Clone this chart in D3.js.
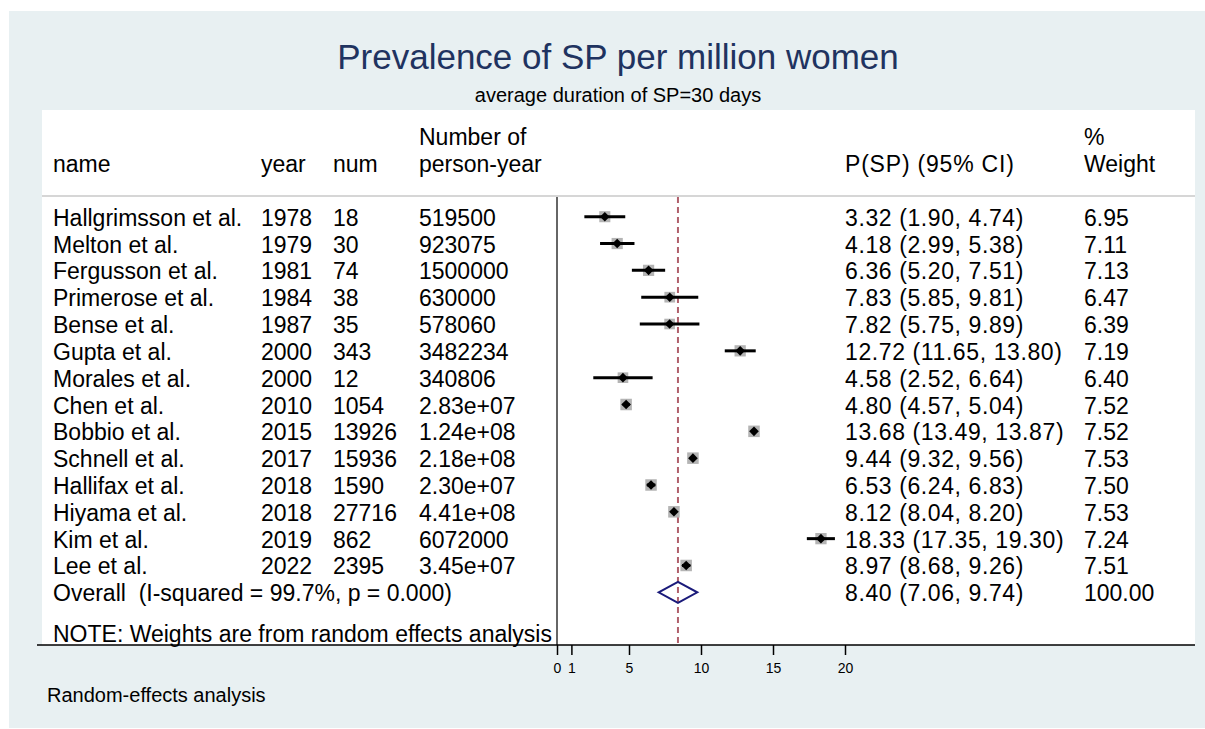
<!DOCTYPE html>
<html>
<head>
<meta charset="UTF-8">
<title>Prevalence of SP per million women</title>
<style>
	body { margin: 0; background: white; }
	svg text { font-family: "Liberation Sans", Arial, Helvetica, sans-serif; white-space: pre; }
</style>
</head>
<body>
<div id="chart"></div>
<script src="https://d3js.org/d3.v7.min.js"></script>
<script>

	// study data
	let names = ["Hallgrimsson et al.", "Melton et al.", "Fergusson et al.", "Primerose et al.",
		"Bense et al.", "Gupta et al.", "Morales et al.", "Chen et al.", "Bobbio et al.",
		"Schnell et al.", "Hallifax et al.", "Hiyama et al.", "Kim et al.", "Lee et al."];
	let years = [1978, 1979, 1981, 1984, 1987, 2000, 2000, 2010, 2015, 2017, 2018, 2018, 2019, 2022];
	let nums = [18, 30, 74, 38, 35, 343, 12, 1054, 13926, 15936, 1590, 27716, 862, 2395];
	let personYears = ["519500", "923075", "1500000", "630000", "578060", "3482234", "340806",
		"2.83e+07", "1.24e+08", "2.18e+08", "2.30e+07", "4.41e+08", "6072000", "3.45e+07"];
	let est = [3.32, 4.18, 6.36, 7.83, 7.82, 12.72, 4.58, 4.80, 13.68, 9.44, 6.53, 8.12, 18.33, 8.97];
	let lower = [1.90, 2.99, 5.20, 5.85, 5.75, 11.65, 2.52, 4.57, 13.49, 9.32, 6.24, 8.04, 17.35, 8.68];
	let upper = [4.74, 5.38, 7.51, 9.81, 9.89, 13.80, 6.64, 5.04, 13.87, 9.56, 6.83, 8.20, 19.30, 9.26];
	let weights = [6.95, 7.11, 7.13, 6.47, 6.39, 7.19, 6.40, 7.52, 7.52, 7.53, 7.50, 7.53, 7.24, 7.51];

	// pooled random-effects estimate
	let overall = {est: 8.40, lower: 7.06, upper: 9.74, weight: 100.00,
		label: "Overall  (I-squared = 99.7%, p = 0.000)"};
	let tickValues = [0, 1, 5, 10, 15, 20];

	let W = 1205, H = 729;
	let fs = 23;

	let svg = d3.select("#chart").append("svg")
		.attr("width", W)
		.attr("height", H);

	svg.append("rect")
		.attr("x", 9).attr("y", 11)
		.attr("width", W - 9).attr("height", H - 12)
		.attr("fill", "#e8f0f2");

	svg.append("rect")
		.attr("x", 42).attr("y", 110)
		.attr("width", 1195 - 42).attr("height", 645 - 110)
		.attr("fill", "white");

	// titles
	svg.append("text")
		.attr("x", 618).attr("y", 69)
		.attr("text-anchor", "middle")
		.attr("font-size", 35)
		.attr("fill", "#1f3360")
		.text("Prevalence of SP per million women");

	svg.append("text")
		.attr("x", 618).attr("y", 102)
		.attr("text-anchor", "middle")
		.attr("font-size", 20)
		.attr("fill", "black")
		.text("average duration of SP=30 days");

	let x = d3.scaleLinear().domain([0, 20]).range([557, 845]);
	let y = d3.scaleLinear().domain([0, 14]).range([216.7, 592.3]);

	// header
	let cols = {name: 53, year: 261, num: 333, py: 419, ci: 845, wt: 1084};
	let header = svg.append("g").attr("font-size", fs);
	header.append("text").attr("x", cols.name).attr("y", 172).text("name");
	header.append("text").attr("x", cols.year).attr("y", 172).text("year");
	header.append("text").attr("x", cols.num).attr("y", 172).text("num");
	header.append("text").attr("x", cols.py).attr("y", 145).text("Number of");
	header.append("text").attr("x", cols.py).attr("y", 172).text("person-year");
	header.append("text").attr("x", cols.ci).attr("y", 172).attr("letter-spacing", 0.8).text("P(SP) (95% CI)");
	header.append("text").attr("x", cols.wt).attr("y", 145).text("%");
	header.append("text").attr("x", cols.wt).attr("y", 172).text("Weight");

	svg.append("line")
		.attr("x1", 42).attr("x2", 1195)
		.attr("y1", 196).attr("y2", 196)
		.attr("stroke", "#c8c8c8").attr("stroke-width", 1.5);

	// null line and pooled line
	svg.append("line")
		.attr("x1", x(0)).attr("x2", x(0))
		.attr("y1", 197).attr("y2", 645)
		.attr("stroke", "#333").attr("stroke-width", 1.5);

	svg.append("line")
		.attr("x1", x(overall.est)).attr("x2", x(overall.est))
		.attr("y1", 197).attr("y2", 645)
		.attr("stroke", "#b0606c").attr("stroke-width", 2)
		.attr("stroke-dasharray", "6,4");

	let rows = names.map((d, i) => ({
		name: d, year: years[i], num: nums[i], py: personYears[i],
		est: est[i], lo: lower[i], hi: upper[i], w: weights[i], i: i
	}));

	let rowG = svg.append("g").selectAll("g")
		.data(rows)
		.enter()
		.append("g");

	let fmt = d3.format(".2f");

	rowG.append("text").attr("x", cols.name).attr("y", d => y(d.i) + 9).attr("font-size", fs).text(d => d.name);
	rowG.append("text").attr("x", cols.year).attr("y", d => y(d.i) + 9).attr("font-size", fs).text(d => d.year);
	rowG.append("text").attr("x", cols.num).attr("y", d => y(d.i) + 9).attr("font-size", fs).text(d => d.num);
	rowG.append("text").attr("x", cols.py).attr("y", d => y(d.i) + 9).attr("font-size", fs).text(d => d.py);
	rowG.append("text").attr("x", cols.ci).attr("y", d => y(d.i) + 9).attr("font-size", fs)
		.attr("letter-spacing", 0.6)
		.text(d => fmt(d.est) + " (" + fmt(d.lo) + ", " + fmt(d.hi) + ")");
	rowG.append("text").attr("x", cols.wt).attr("y", d => y(d.i) + 9).attr("font-size", fs).text(d => fmt(d.w));

	// weight boxes
	rowG.append("rect")
		.attr("x", d => x(d.est) - 2.1 * Math.sqrt(d.w))
		.attr("y", d => y(d.i) - 2.1 * Math.sqrt(d.w))
		.attr("width", d => 4.2 * Math.sqrt(d.w))
		.attr("height", d => 4.2 * Math.sqrt(d.w))
		.attr("fill", "#b4b4b4");

	rowG.append("line")
		.attr("x1", d => x(d.lo)).attr("x2", d => x(d.hi))
		.attr("y1", d => y(d.i)).attr("y2", d => y(d.i))
		.attr("stroke", "black").attr("stroke-width", 3);

	rowG.append("path")
		.attr("d", d => {
			let cx = x(d.est), cy = y(d.i), r = 4.8;
			return `M${cx},${cy - r}L${cx + r},${cy}L${cx},${cy + r}L${cx - r},${cy}Z`;
		})
		.attr("fill", "black");

	// overall row
	let oy = y(14);
	svg.append("text").attr("x", cols.name).attr("y", oy + 9).attr("font-size", fs).text(overall.label);
	svg.append("text").attr("x", cols.ci).attr("y", oy + 9).attr("font-size", fs)
		.attr("letter-spacing", 0.6)
		.text(fmt(overall.est) + " (" + fmt(overall.lower) + ", " + fmt(overall.upper) + ")");
	svg.append("text").attr("x", cols.wt).attr("y", oy + 9).attr("font-size", fs).text(fmt(overall.weight));

	svg.append("path")
		.attr("d", `M${x(overall.lower)},${oy}L${x(overall.est)},${oy - 10.5}L${x(overall.upper)},${oy}L${x(overall.est)},${oy + 10.5}Z`)
		.attr("fill", "none")
		.attr("stroke", "#1a1a7a")
		.attr("stroke-width", 2);

	svg.append("text").attr("x", cols.name).attr("y", y(15.5) + 9).attr("font-size", fs)
		.text("NOTE: Weights are from random effects analysis");

	// x axis
	let axisG = svg.append("g")
		.attr("transform", "translate(0,645)")
		.call(d3.axisBottom(x).tickValues(tickValues).tickSize(10).tickPadding(8).tickFormat(d3.format("d")));
	axisG.select(".domain").remove();
	axisG.selectAll(".tick line").attr("stroke", "black").attr("stroke-width", 1.5);
	axisG.selectAll(".tick text").attr("font-size", 14).attr("fill", "black")
		.attr("font-family", "Liberation Sans, Arial, sans-serif");

	svg.append("line")
		.attr("x1", 37).attr("x2", 1195)
		.attr("y1", 645).attr("y2", 645)
		.attr("stroke", "black").attr("stroke-width", 1.5);

	svg.append("text")
		.attr("x", 47).attr("y", 702)
		.attr("font-size", 20)
		.text("Random-effects analysis");

</script>
</body>
</html>
